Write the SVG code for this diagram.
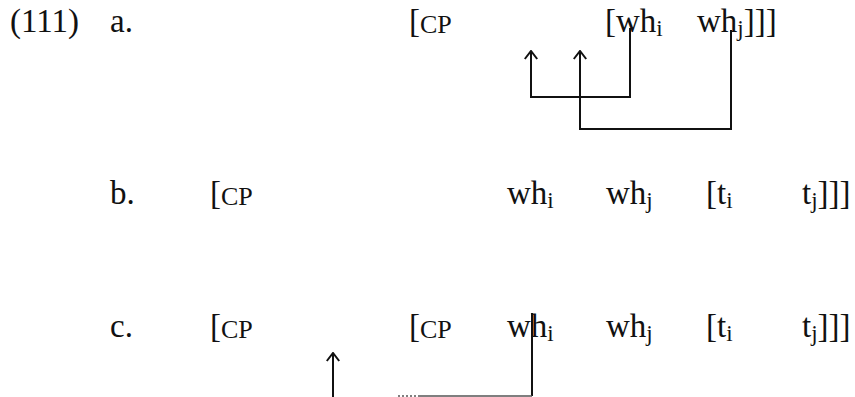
<svg xmlns="http://www.w3.org/2000/svg" width="855" height="397" viewBox="0 0 855 397">
<style>
text{font-family:"Liberation Serif","Times New Roman",serif;font-size:33px;fill:#111}
.cp{font-size:26px}
.sub{font-size:23px}
.ln{fill:none;stroke:#111;stroke-width:2}
.gr{fill:none;stroke:#555;stroke-width:1.5}
</style>
<defs>
<marker id="ah" viewBox="0 0 10 14" refX="9" refY="7" markerWidth="10" markerHeight="14" markerUnits="userSpaceOnUse" orient="auto">
<path d="M1 0.8 L9 7 L1 13.2" fill="none" stroke="#111" stroke-width="2"/>
</marker>
</defs>
<g id="line-a">
<text x="10" y="32">(111)</text>
<text x="110" y="32">a.</text>
<text x="409" y="32">[<tspan class="cp" dy="1">CP</tspan></text>
<text x="605" y="32">[wh<tspan class="sub" dy="4">i</tspan></text>
<text x="697" y="32">wh<tspan class="sub" dy="4">j</tspan><tspan dy="-4">]]]</tspan></text>
</g>
<g id="line-b">
<text x="110" y="204">b.</text>
<text x="210" y="204">[<tspan class="cp" dy="1">CP</tspan></text>
<text x="507" y="204">wh<tspan class="sub" dy="4">i</tspan></text>
<text x="606" y="204">wh<tspan class="sub" dy="4">j</tspan></text>
<text x="706" y="204">[t<tspan class="sub" dy="4">i</tspan></text>
<text x="802" y="204">t<tspan class="sub" dy="4">j</tspan><tspan dy="-4">]]]</tspan></text>
</g>
<g id="line-c">
<text x="110" y="337">c.</text>
<text x="210" y="337">[<tspan class="cp" dy="1">CP</tspan></text>
<text x="409" y="337">[<tspan class="cp" dy="1">CP</tspan></text>
<text x="507" y="337">wh<tspan class="sub" dy="4">i</tspan></text>
<text x="606" y="337">wh<tspan class="sub" dy="4">j</tspan></text>
<text x="706" y="337">[t<tspan class="sub" dy="4">i</tspan></text>
<text x="802" y="337">t<tspan class="sub" dy="4">j</tspan><tspan dy="-4">]]]</tspan></text>
</g>
<g id="connectors">
<path class="ln" d="M630 28 V97 H531 V51" marker-end="url(#ah)"/>
<path class="ln" d="M731 30 V129 H580 V51" marker-end="url(#ah)"/>
<path class="ln" d="M532 313 V396"/>
<path class="gr" d="M420 396 H532"/>
<path class="gr" d="M398 396 H420" stroke-dasharray="2 2" stroke="#aaa"/>
<path class="ln" d="M333 397 V353" marker-end="url(#ah)"/>
</g>
</svg>
